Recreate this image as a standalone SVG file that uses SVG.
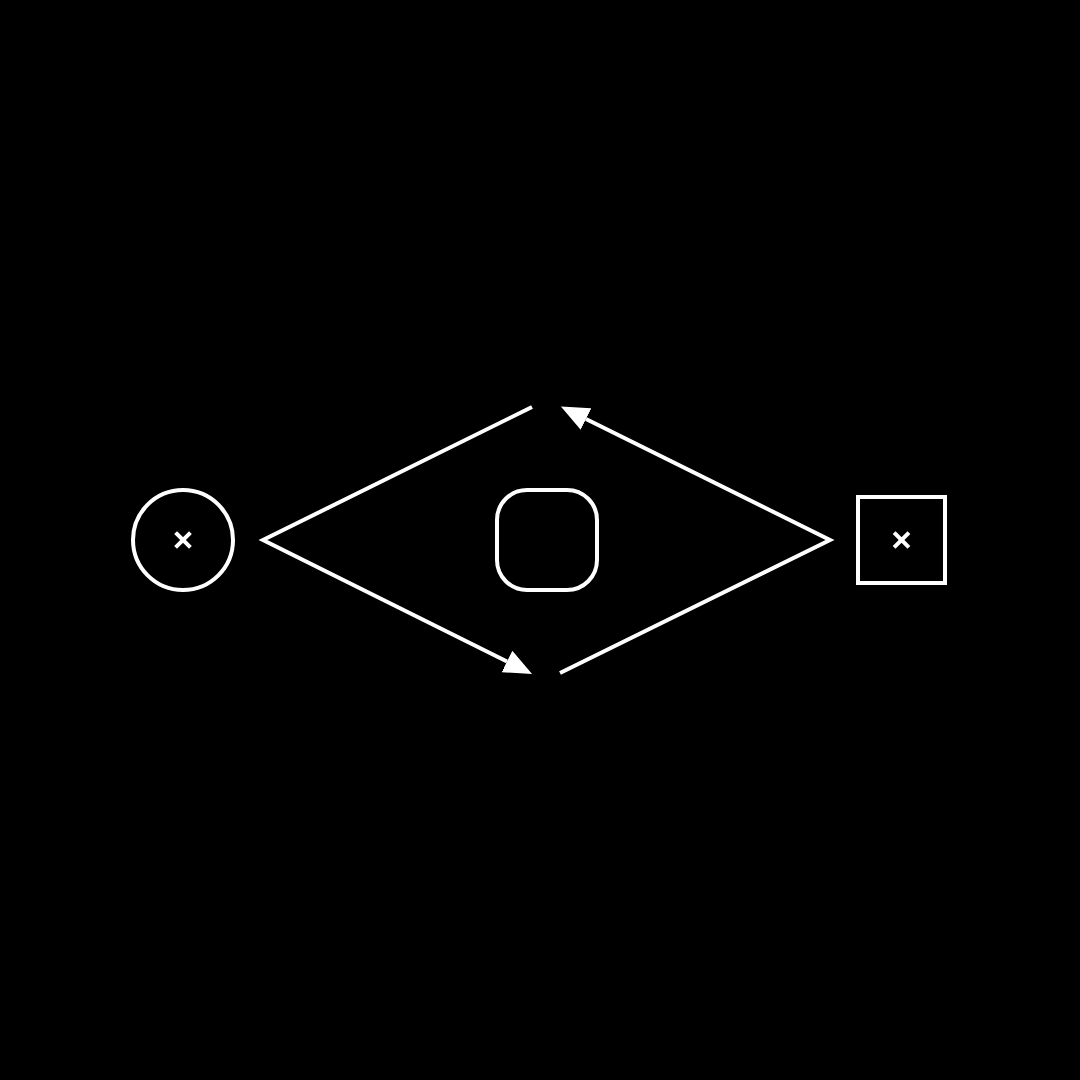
<svg xmlns="http://www.w3.org/2000/svg" width="1080" height="1080" viewBox="0 0 1080 1080">
<style>
.shape{fill:none;stroke:#fff;stroke-width:4}
.mark{stroke:#fff;stroke-width:4;stroke-linecap:square}
.conn{fill:none;stroke:#fff;stroke-width:4;stroke-linejoin:miter;stroke-miterlimit:10}
</style>
<defs>
<marker id="arrow" viewBox="0 0 28 24" refX="0" refY="12" markerWidth="28" markerHeight="24" markerUnits="userSpaceOnUse" orient="auto">
<path d="M0,0 L28,12 L0,24 z" fill="#fff"/>
</marker>
</defs>
<rect width="1080" height="1080" fill="#000"/>
<g id="node-circle">
<circle class="shape" cx="183" cy="540" r="50"/>
<line class="mark" x1="177" y1="534" x2="189" y2="546"/>
<line class="mark" x1="189" y1="534" x2="177" y2="546"/>
</g>
<g id="node-center">
<rect class="shape" x="497" y="490" width="100" height="100" rx="30"/>
</g>
<g id="node-square">
<rect class="shape" x="858" y="497" width="87" height="86"/>
<line class="mark" x1="895.5" y1="534" x2="907.5" y2="546"/>
<line class="mark" x1="907.5" y1="534" x2="895.5" y2="546"/>
</g>
<g id="connectors">
<path class="conn" d="M532,407 L263,540 L507,661.5" marker-end="url(#arrow)"/>
<path class="conn" d="M560,673 L830,540 L586,419" marker-end="url(#arrow)"/>
</g>
</svg>
